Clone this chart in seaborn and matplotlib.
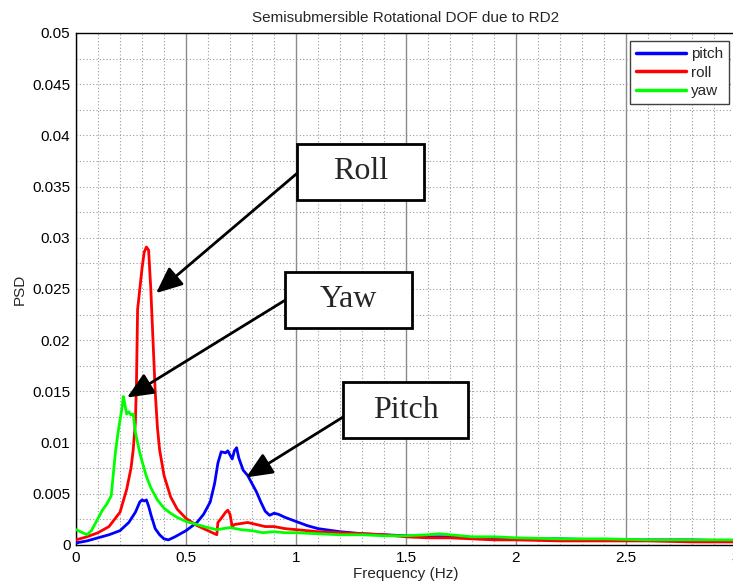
import numpy as np
import pandas as pd
import matplotlib
matplotlib.use("Agg")
import matplotlib.pyplot as plt
import seaborn as sns
from matplotlib.lines import Line2D
from matplotlib.patches import Rectangle
from matplotlib.ticker import MultipleLocator, FuncFormatter

# ---------------- data ----------------
pitch_f = [0, 0.05, 0.1, 0.15, 0.2, 0.24, 0.27, 0.29, 0.3, 0.31, 0.32, 0.33, 0.34, 0.36,
           0.38, 0.4, 0.42, 0.45, 0.5, 0.55, 0.58, 0.61, 0.63, 0.645, 0.66, 0.68, 0.69,
           0.70, 0.71, 0.72, 0.73, 0.74, 0.76, 0.78, 0.8, 0.82, 0.84, 0.86, 0.88, 0.9,
           0.92, 0.95, 1.0, 1.05, 1.1, 1.2, 1.3, 1.4, 1.5, 1.6, 1.7, 1.8, 2.0, 2.2, 2.4,
           2.6, 2.8, 3.0]
pitch_v = [0.0002, 0.0004, 0.0007, 0.0010, 0.0014, 0.0022, 0.0032, 0.0042, 0.0044, 0.0043,
           0.0044, 0.0038, 0.0030, 0.0016, 0.0010, 0.0006, 0.0005, 0.0008, 0.0014, 0.0022,
           0.0030, 0.0042, 0.0060, 0.0080, 0.0091, 0.0090, 0.0092, 0.0088, 0.0084, 0.0092,
           0.0095, 0.0085, 0.0073, 0.0068, 0.0060, 0.0052, 0.0042, 0.0033, 0.0029, 0.0031,
           0.0030, 0.0027, 0.0023, 0.0019, 0.0016, 0.0013, 0.0011, 0.0010, 0.0009, 0.0008,
           0.0008, 0.0007, 0.0006, 0.0006, 0.0005, 0.0005, 0.0005, 0.0004]

roll_f = [0, 0.05, 0.1, 0.15, 0.2, 0.23, 0.25, 0.26, 0.27, 0.275, 0.28, 0.29, 0.30, 0.31,
          0.32, 0.33, 0.34, 0.35, 0.36, 0.37, 0.38, 0.40, 0.43, 0.46, 0.5, 0.55, 0.6, 0.64,
          0.645, 0.66, 0.68, 0.69, 0.70, 0.71, 0.72, 0.75, 0.78, 0.82, 0.86, 0.9, 0.95, 1.0,
          1.1, 1.2, 1.3, 1.4, 1.5, 1.6, 1.7, 1.8, 1.9, 2.0, 2.2, 2.4, 2.6, 2.8, 3.0]
roll_v = [0.0005, 0.0008, 0.0012, 0.0018, 0.0032, 0.0054, 0.0075, 0.0093, 0.0120, 0.0160,
          0.0230, 0.0250, 0.0270, 0.0286, 0.0291, 0.0288, 0.0250, 0.0200, 0.0150, 0.0115,
          0.0093, 0.0068, 0.0047, 0.0035, 0.0026, 0.0019, 0.0014, 0.0010, 0.0022, 0.0026,
          0.0032, 0.0034, 0.0030, 0.0018, 0.0020, 0.0021, 0.0022, 0.0020, 0.0018, 0.0018,
          0.0016, 0.0015, 0.0013, 0.0012, 0.0011, 0.0010, 0.0008, 0.0007, 0.0007, 0.0006,
          0.0005, 0.0005, 0.0004, 0.0004, 0.0004, 0.0003, 0.0003]

yaw_f = [0, 0.02, 0.05, 0.07, 0.09, 0.1, 0.12, 0.14, 0.16, 0.17, 0.18, 0.19, 0.2, 0.21,
         0.215, 0.22, 0.23, 0.24, 0.25, 0.26, 0.27, 0.28, 0.29, 0.3, 0.32, 0.34, 0.37, 0.4,
         0.43, 0.46, 0.5, 0.55, 0.6, 0.64, 0.67, 0.7, 0.75, 0.8, 0.85, 0.9, 0.95, 1.0, 1.1,
         1.2, 1.3, 1.4, 1.5, 1.6, 1.65, 1.7, 1.75, 1.8, 1.9, 2.0, 2.2, 2.4, 2.6, 2.8, 3.0]
yaw_v = [0.0015, 0.0013, 0.0010, 0.0014, 0.0022, 0.0026, 0.0034, 0.0040, 0.0048, 0.0070,
         0.0092, 0.0108, 0.0122, 0.0135, 0.0145, 0.0140, 0.0128, 0.0130, 0.0127, 0.0128,
         0.0110, 0.0100, 0.0090, 0.0082, 0.0067, 0.0056, 0.0044, 0.0036, 0.0031, 0.0027,
         0.0023, 0.0020, 0.0017, 0.0015, 0.0016, 0.0017, 0.0015, 0.0014, 0.0012, 0.0013,
         0.0012, 0.0012, 0.0011, 0.0010, 0.0010, 0.0009, 0.0009, 0.0010, 0.0011, 0.0010,
         0.0009, 0.0008, 0.0008, 0.0007, 0.0006, 0.0006, 0.0005, 0.0005, 0.0005]

series_names = ["pitch", "roll", "yaw"]
series_colors = ["#0000ff", "#ff0000", "#00ff00"]
x_ticks = [0, 0.5, 1, 1.5, 2, 2.5, 3]
y_ticks = [0, 0.005, 0.01, 0.015, 0.02, 0.025, 0.03, 0.035, 0.04, 0.045, 0.05]
title = "Semisubmersible Rotational DOF due to RD2"
xlabel = "Frequency (Hz)"
ylabel = "PSD"

# annotations: label, arrow tip (data), arrow start (data), box (x0, x1, y0, y1)
annotations = [
    ("Roll", (0.364, 0.0246), (1.005, 0.0363), (1.005, 1.582, 0.0337, 0.0392)),
    ("Yaw", (0.232, 0.0144), (0.950, 0.0239), (0.950, 1.527, 0.0212, 0.0267)),
    ("Pitch", (0.773, 0.0066), (1.214, 0.0125), (1.214, 1.782, 0.01045, 0.0159)),
]

# ---------------- build long table ----------------
frames = []
for name, f, v in [("pitch", pitch_f, pitch_v), ("roll", roll_f, roll_v), ("yaw", yaw_f, yaw_v)]:
    frames.append(pd.DataFrame({"freq": f, "psd": v, "dof": name}))
df = pd.concat(frames, ignore_index=True)

sns.set_style("white")
plt.rcParams["font.family"] = ["Liberation Sans", "DejaVu Sans"]

fig = plt.figure(figsize=(7.33, 5.88), dpi=100)
fig.patch.set_facecolor("white")
ax = fig.add_axes([76 / 733, 43 / 588, 660 / 733, 512 / 588])

sns.lineplot(data=df, x="freq", y="psd", hue="dof", hue_order=series_names,
             palette=dict(zip(series_names, series_colors)), estimator=None,
             sort=False, lw=2, legend=False, ax=ax, zorder=3)

ax.set_xlim(0, 3)
ax.set_ylim(0, 0.05)
ax.set_xticks(x_ticks)
ax.set_yticks(y_ticks)
ax.xaxis.set_major_formatter(FuncFormatter(lambda v, p: f"{v:g}"))
ax.yaxis.set_major_formatter(FuncFormatter(lambda v, p: f"{v:g}"))
ax.xaxis.set_minor_locator(MultipleLocator(0.1))
ax.yaxis.set_minor_locator(MultipleLocator(0.0025))
ax.tick_params(which="major", direction="in", length=5, width=0.8, labelsize=11,
               colors="black", pad=4)
ax.tick_params(which="minor", length=0)

ax.grid(False)
ax.grid(True, which="major", axis="x", color="#8a8a8a", lw=1.0, ls="-", zorder=0)
ax.grid(True, which="major", axis="y", color="#9a9a9a", lw=0.8, ls=(0, (1, 2)), zorder=0)
ax.grid(True, which="minor", axis="both", color="#9a9a9a", lw=0.8, ls=(0, (1, 2)), zorder=0)
ax.set_axisbelow(True)

for s in ax.spines.values():
    s.set_visible(True)
    s.set_color("black")
    s.set_linewidth(1.0)

ax.set_title(title, fontsize=11, pad=8)
ax.set_xlabel(xlabel, fontsize=11, labelpad=2)
ax.set_ylabel(ylabel, fontsize=11, labelpad=4)

handles = [Line2D([0], [0], color=c, lw=2.5) for c in series_colors]
leg = ax.legend(handles, series_names, loc="upper right", fontsize=11,
                bbox_to_anchor=(1 - 7 / 660, 1 - 8 / 512), borderaxespad=0,
                handlelength=3.3, handletextpad=0.3, labelspacing=0.3,
                borderpad=0.4, fancybox=False, framealpha=1, edgecolor="#404040")
leg.get_frame().set_linewidth(1.0)

for label, tip, start, (x0, x1, y0, y1) in annotations:
    ax.add_patch(Rectangle((x0, y0), x1 - x0, y1 - y0, facecolor="white",
                           edgecolor="black", lw=2, zorder=6))
    ax.text((x0 + x1) / 2, (y0 + y1) / 2, label, ha="center", va="center",
            fontsize=23, family=["Liberation Serif", "DejaVu Serif"], zorder=7)
    ax.annotate("", xy=tip, xytext=start,
                arrowprops=dict(arrowstyle="-|>,head_length=0.8,head_width=0.35",
                                color="black", lw=2, mutation_scale=20,
                                shrinkA=0, shrinkB=0), zorder=5)

fig.savefig("out.png", dpi=100, facecolor="white")
